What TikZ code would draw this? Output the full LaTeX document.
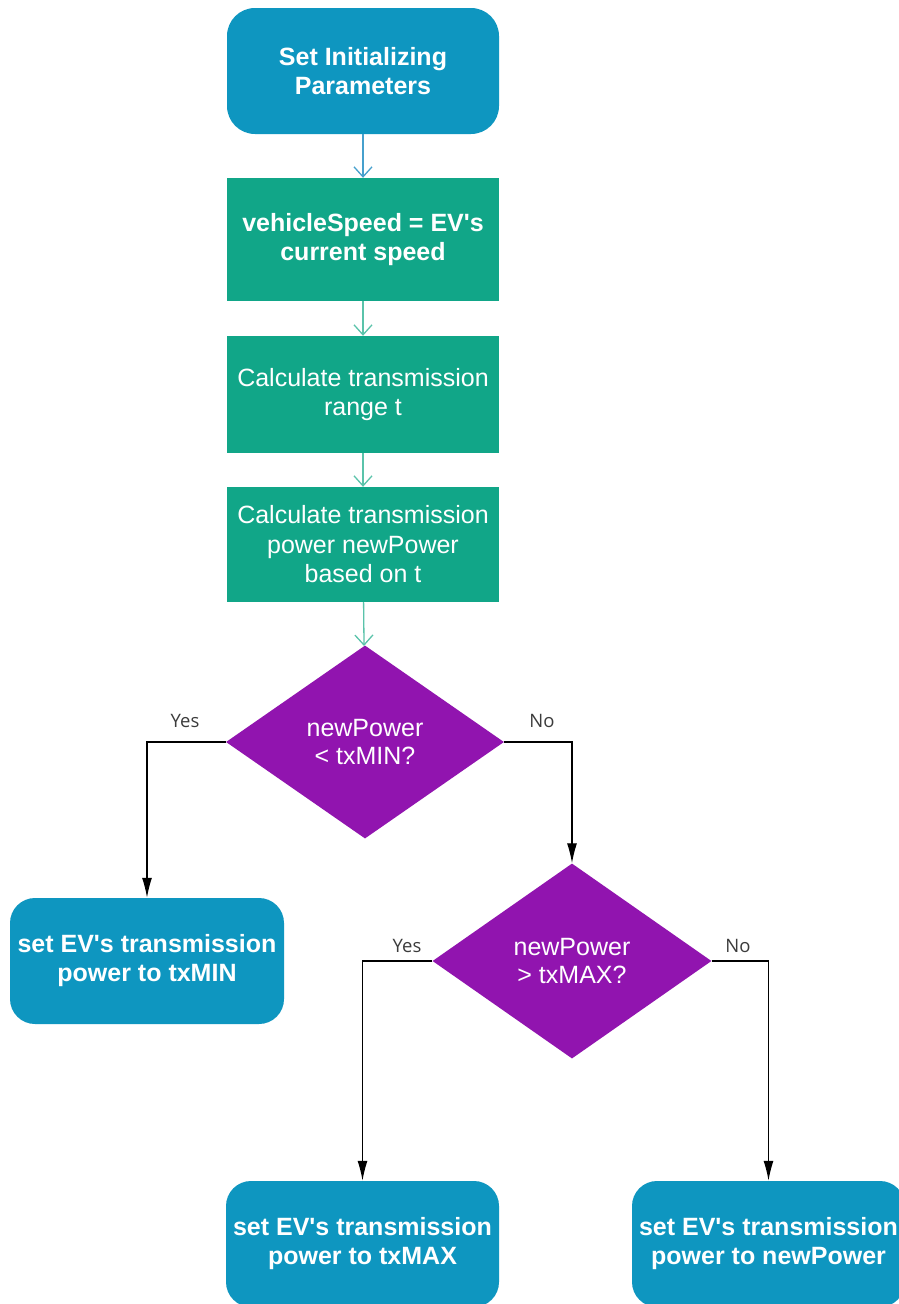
\documentclass[tikz,border=0pt]{standalone}
\usepackage{fontspec}
\setmainfont{Liberation Sans}
\newfontfamily\labelfont{Open Sans}
\usetikzlibrary{shapes.geometric,arrows.meta}
\definecolor{boxblue}{RGB}{14,150,192}
\definecolor{boxgreen}{RGB}{17,166,136}
\definecolor{diapurple}{RGB}{145,20,175}
\definecolor{lineblue}{RGB}{70,160,205}
\definecolor{lineteal}{RGB}{90,195,170}
\definecolor{labelgray}{RGB}{60,60,60}
\tikzset{
  bluebox/.style={draw=none, fill=boxblue, rounded corners=28pt, inner sep=0pt, text=white, align=center,
    font={\fontsize{25}{29}\selectfont\bfseries}},
  greenbox/.style={draw=none, fill=boxgreen, inner sep=0pt, text=white, align=center,
    font={\fontsize{25}{29.5}\selectfont}},
  decision/.style={diamond, draw=none, fill=diapurple, inner sep=0pt, text=white, align=center,
    font={\fontsize{25}{28}\selectfont}},
  flowline/.style={line width=1.3pt, -{Straight Barb[length=10pt,width=18pt,line width=1.3pt]}},
  branch/.style={line width=1.3pt, black, -{Latex[length=20pt,width=10pt]}},
  branchlabel/.style={text=labelgray, font={\labelfont\fontsize{18.5}{20}\selectfont}, inner sep=0pt},
}
\begin{document}
\begin{tikzpicture}[x=1pt,y=-1pt]
\path[use as bounding box, clip] (0,0) rectangle (899,1304);
\fill[white] (0,0) rectangle (899,1304);

\node[bluebox, minimum width=272pt, minimum height=126pt] (start) at (363,71) {Set Initializing\\Parameters};
\node[greenbox, minimum width=272pt, minimum height=123pt, font={\fontsize{25}{29}\selectfont\bfseries}] (speed) at (363,239.5) {vehicleSpeed = EV\textquotesingle s\\current speed};
\node[greenbox, minimum width=272pt, minimum height=117pt] (range) at (363,394.5) {Calculate transmission\\range t};
\node[greenbox, minimum width=272pt, minimum height=115pt] (power) at (363,544.5) {Calculate transmission\\power newPower\\based on t};
\node[decision, minimum width=278pt, minimum height=193pt] (dmin) at (365,742) {newPower\\< txMIN?};
\node[bluebox, rounded corners=25pt, minimum width=274pt, minimum height=126pt] (setmin) at (147,961) {set EV\textquotesingle s transmission\\power to txMIN};
\node[decision, minimum width=279pt, minimum height=195pt] (dmax) at (572,961) {newPower\\> txMAX?};
\node[bluebox, rounded corners=25pt, minimum width=273pt, minimum height=126pt] (setmax) at (362.5,1244) {set EV\textquotesingle s transmission\\power to txMAX};
\node[bluebox, rounded corners=25pt, minimum width=273pt, minimum height=126pt] (setnew) at (768.5,1244) {set EV\textquotesingle s transmission\\power to newPower};

\draw[flowline, lineblue] (start) -- (speed);
\draw[flowline, lineteal] (speed) -- (range);
\draw[flowline, lineteal] (range) -- (power);
\draw[flowline, lineteal] (power) -- (dmin);

\draw[branch] (dmin.west) -| (setmin.north);
\draw[branch] (dmin.east) -| (dmax.north);
\draw[branch] (dmax.west) -| (setmax.north);
\draw[branch] (dmax.east) -| (setnew.north);

\node[branchlabel] (yes1) at (185,721) {Yes};
\node[branchlabel] (no1) at (542,721) {No};
\node[branchlabel] (yes2) at (407,946) {Yes};
\node[branchlabel] (no2) at (738,946) {No};
\end{tikzpicture}
\end{document}
